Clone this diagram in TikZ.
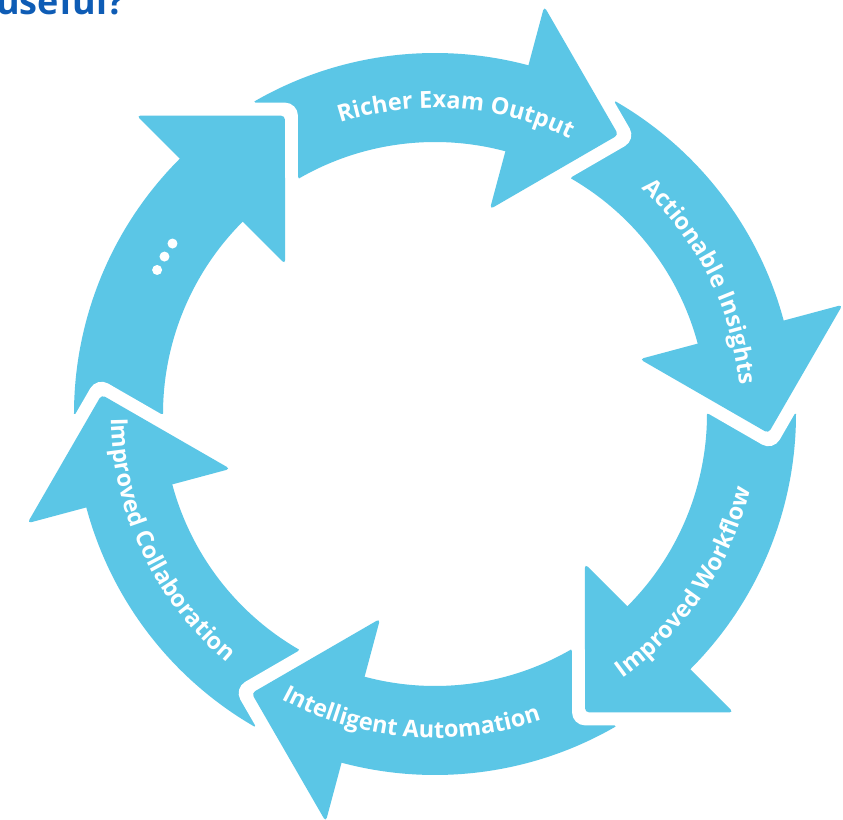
\documentclass[tikz,border=0pt]{standalone}
\usepackage{fontspec}
\usetikzlibrary{decorations.text}
\newfontfamily\lblfont{Open Sans}
\definecolor{arrowblue}{HTML}{5BC6E6}
\definecolor{titleblue}{HTML}{0E5CB5}
\def\lbl{\lblfont\bfseries\fontsize{23.5}{23.5}\selectfont\color{white}}
\tikzset{
  bandfill/.style={fill=arrowblue},
  headgap/.style={draw=white, line width=26, line join=round, line cap=round},
  headfill/.style={fill=arrowblue, rounded corners=4},
  arclabel/.style={decorate, decoration={text along path, text align=center, text color=white, text={|\lbl|#1}}},
  dotstyle/.style={fill=white}
}
\begin{document}
\begin{tikzpicture}[x=1pt,y=1pt]
\useasboundingbox (-435,-405) rectangle (408,414);
\clip (-435,-405) rectangle (408,414);
\fill[white] (-435,-405) rectangle (408,414);
% title (cut off at the top)
\node[anchor=base west, inner sep=0, text=titleblue, font=\lblfont\bfseries\fontsize{36}{36}\selectfont] (title) at (-439,399) {useful?};
% bands
\foreach \b in {75,15,-45,-105,-165,-225} {
  \pgfmathsetmacro\t{\b+45}
  \pgfmathsetmacro\s{\b-0.5}
  \fill[bandfill] (\s:361) arc[start angle=\s, end angle=\t, radius=361] -- (\t:272) arc[start angle=\t, end angle=\s, radius=272] -- cycle;
}
% heads
\foreach \b in {75,15,-45,-105,-165,-225} {
  \pgfmathsetmacro\p{\b-18.3}
  \draw[headgap] (\b:422) -- (\p:334) -- (\b:212);
  \fill[headfill] (\b:422) -- (\p:334) -- (\b:212) -- cycle;
}
% labels
\path[arclabel={Richer Exam Output}] (126:306) arc[start angle=126, end angle=46, radius=306];
\path[arclabel={Actionable Insights}] (66.5:306) arc[start angle=66.5, end angle=-13.5, radius=306];
\path[arclabel={Improved Workflow}] (-74:324) arc[start angle=-74, end angle=6, radius=324];
\path[arclabel={Intelligent Automation}] (-134.6:324) arc[start angle=-134.6, end angle=-54.6, radius=324];
\path[arclabel={Improved Collaboration}] (165.4:324) arc[start angle=165.4, end angle=245.4, radius=324];
% dots
\fill[dotstyle] (147:313) circle[radius=5];
\fill[dotstyle] (149.8:313) circle[radius=5];
\fill[dotstyle] (152.6:313) circle[radius=5];
\end{tikzpicture}
\end{document}
